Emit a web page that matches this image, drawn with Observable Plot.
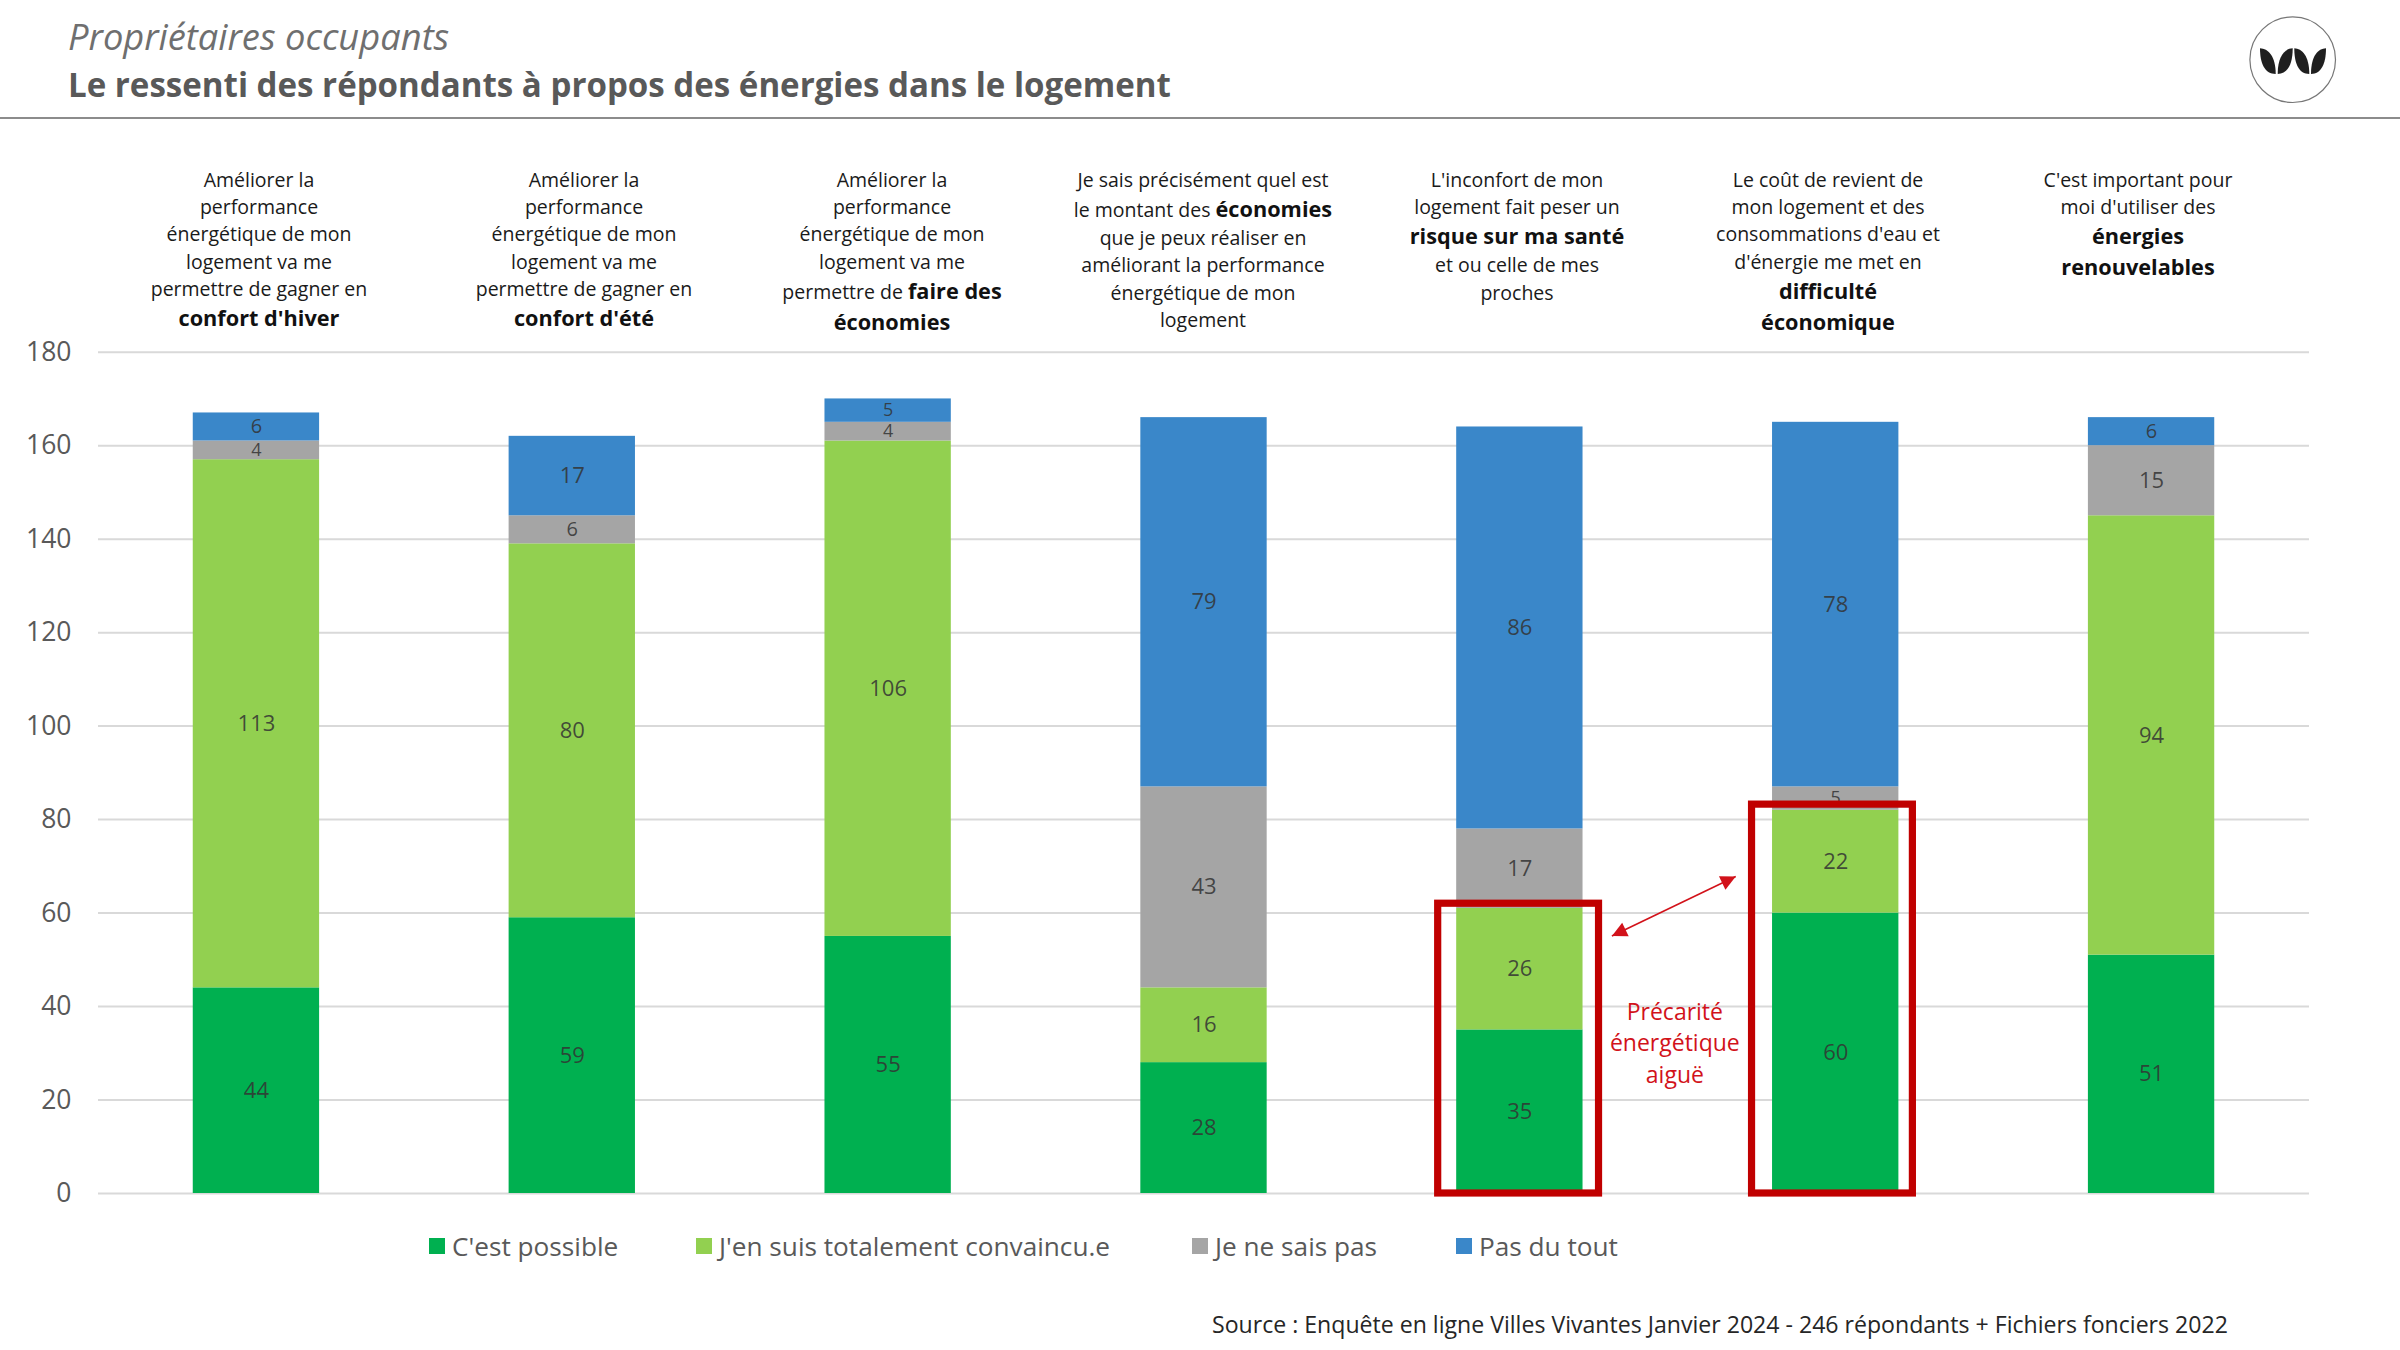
<!DOCTYPE html>
<html lang="fr">
<head>
<meta charset="utf-8">
<title>Le ressenti des répondants à propos des énergies dans le logement</title>
<script src="https://cdn.jsdelivr.net/npm/d3@7"></script>
<script src="https://cdn.jsdelivr.net/npm/@observablehq/plot@0.6"></script>
<style>
  html, body { margin: 0; padding: 0; background: #fff; overflow: hidden; }
  #page { position: relative; width: 2400px; height: 1350px; font-family: "Open Sans", sans-serif; }
  #page > * { position: absolute; }
  #kicker { left: 68px; top: 11px; font-size: 36.3px; font-style: italic; color: #6f6f6f; line-height: 50px; white-space: nowrap; }
  #title { left: 68px; top: 60px; font-size: 33.1px; font-weight: 700; color: #595959; line-height: 50px; white-space: nowrap; }
  #rule { left: 0; top: 117px; width: 2400px; height: 2px; background: #8c8c8c; }
  .head { top: 166px; width: 300px; margin-left: -150px; text-align: center; color: #1a1a1a; font-size: 19.5px; }
  .head div { line-height: 27.2px; height: 27.2px; white-space: nowrap; }
  .head div.t { line-height: 31px; height: 31px; }
  .head b { font-size: 21.7px; font-weight: 700; color: #111; }
  #logo { left: 2248px; top: 14px; }
  #chart { left: 0; top: 336px; }
  #legend { left: 0; top: 1226px; width: 2400px; height: 40px; font-size: 26.2px; color: #595959; line-height: 40px; }
  #legend span { position: absolute; white-space: nowrap; }
  #legend i { position: absolute; left: -23px; top: 12px; width: 15.5px; height: 15.5px; }
  #source { left: 1212px; top: 1306px; font-size: 23.1px; color: #262626; line-height: 36px; white-space: nowrap; }
</style>
</head>
<body>
<div id="page"></div>
<script>
const categories = ["Confort d'hiver", "Confort d'été", "Faire des économies", "Montant des économies", "Risque sur ma santé", "Difficulté économique", "Énergies renouvelables"];
const series = ["C'est possible", "J'en suis totalement convaincu.e", "Je ne sais pas", "Pas du tout"];
const colors = ["#00B050", "#92D050", "#A5A5A5", "#3A87C9"];
const possible = [44, 59, 55, 28, 35, 60, 51];
const convaincu = [113, 80, 106, 16, 26, 22, 94];
const neSaisPas = [4, 6, 4, 43, 17, 5, 15];
const pasDuTout = [6, 17, 5, 79, 86, 78, 6];
const yTicks = [0, 20, 40, 60, 80, 100, 120, 140, 160, 180];

const headings = [
  ["Améliorer la", "performance", "énergétique de mon", "logement va me", "permettre de gagner en", "<b>confort d'hiver</b>"],
  ["Améliorer la", "performance", "énergétique de mon", "logement va me", "permettre de gagner en", "<b>confort d'été</b>"],
  ["Améliorer la", "performance", "énergétique de mon", "logement va me", "permettre de <b>faire des</b>", "<b>économies</b>"],
  ["Je sais précisément quel est", "le montant des <b>économies</b>", "que je peux réaliser en", "améliorant la performance", "énergétique de mon", "logement"],
  ["L'inconfort de mon", "logement fait peser un", "<b>risque sur ma santé</b>", "et ou celle de mes", "proches"],
  ["Le coût de revient de", "mon logement et des", "consommations d'eau et", "d'énergie me met en", "<b>difficulté</b>", "<b>économique</b>"],
  ["C'est important pour", "moi d'utiliser des", "<b>énergies</b>", "<b>renouvelables</b>"]
];
const headingCentres = [259, 584, 892, 1203, 1517, 1828, 2138];
const legendStarts = [452, 719, 1215, 1479];
const highlights = [
  {category: categories[4], top: 62, left: 18.5, right: 16},
  {category: categories[5], top: 83.2, left: 20.5, right: 14}
];
const annotation = ["Précarité", "énergétique", "aiguë"];

const rows = categories.flatMap((category, i) =>
  [possible, convaincu, neSaisPas, pasDuTout].map((values, s) => ({category, series: series[s], value: values[i]}))
);

const page = document.getElementById("page");
function add(tag, id, html) {
  const el = document.createElement(tag);
  if (id) el.id = id;
  if (html) el.innerHTML = html;
  page.appendChild(el);
  return el;
}
add("div", "kicker", "Propriétaires occupants");
add("div", "title", "Le ressenti des répondants à propos des énergies dans le logement");
add("div", "rule");
add("div", "logo", `<svg width="90" height="92" viewBox="0 0 90 92">
  <circle cx="44.7" cy="45.7" r="42.8" fill="#fff" stroke="#777" stroke-width="1.2"/>
  <g fill="#1f1f1f">
    <path d="M12,34.3 C20,34.6 27.7,42 27.7,60 C17,60 12,50 12,34.3Z"/>
    <path d="M44.7,34.3 C36.7,34.6 29.7,42 29.7,60 C39.7,60 44.7,50 44.7,34.3Z"/>
    <path d="M46.3,34.3 C54,34.6 61.3,42 61.3,60 C51,60 46.3,50 46.3,34.3Z"/>
    <path d="M78,34.3 C70,34.6 63,42 63,60 C73,60 78,50 78,34.3Z"/>
  </g>
</svg>`);

headings.forEach((lines, i) => {
  const el = add("div", null, lines.map(l => `<div class="${l.includes("<b>") ? "t" : ""}">${l}</div>`).join(""));
  el.className = "head";
  el.style.left = headingCentres[i] + "px";
});

const arrowMark = (index, {x, y}) => {
  const step = x(categories[5]) - x(categories[4]);
  const cx = x(categories[4]) + x.bandwidth() / 2;
  const ax = cx + step * 0.293, ay = y(55), bx = cx + step * 0.685, by = y(67.7);
  const g = d3.create("svg:g").attr("fill", "#d2121a").attr("stroke", "none");
  const a = Math.atan2(by - ay, bx - ax);
  const head = (px, py, ang) => {
    const len = 15, w = 7.5;
    const bxx = px + Math.cos(ang) * len, byy = py + Math.sin(ang) * len;
    g.append("path").attr("d", `M${px},${py}L${bxx - Math.sin(ang) * w},${byy + Math.cos(ang) * w}L${bxx + Math.sin(ang) * w},${byy - Math.cos(ang) * w}Z`);
  };
  g.append("line").attr("x1", ax).attr("y1", ay).attr("x2", bx).attr("y2", by).attr("stroke", "#d2121a").attr("stroke-width", 1.6);
  head(ax, ay, a);
  head(bx, by, a + Math.PI);
  return g.node();
};

const chart = Plot.plot({
  width: 2400,
  height: 874,
  marginTop: 15.7,
  marginBottom: 17,
  marginLeft: 98,
  marginRight: 91,
  style: {background: "transparent", fontFamily: '"Open Sans", sans-serif', overflow: "visible"},
  x: {domain: categories, paddingInner: 0.6, paddingOuter: 0.3, round: false, axis: null},
  y: {domain: [0, 180], ticks: yTicks, axis: null},
  color: {domain: series, range: colors},
  marks: [
    Plot.gridY(yTicks, {stroke: "#D9D9D9", strokeOpacity: 1, strokeWidth: 2}),
    Plot.axisY(yTicks, {tickSize: 0, tickPadding: 27, fontSize: 26.5, color: "#595959", fill: "#595959", label: null}),
    Plot.barY(rows, {x: "category", y: "value", z: "series", fill: "series", order: series}),
    Plot.text(rows, Plot.stackY({x: "category", y: "value", z: "series", text: "value", order: series, fontSize: d => d.value < 6 ? 18 : d.value < 7 ? 20 : 22, fill: "#333", fillOpacity: 0.85})),
    Plot.barY(highlights.slice(0, 1), {x: "category", y1: 0, y2: "top", insetLeft: -highlights[0].left, insetRight: -highlights[0].right, fill: "none", stroke: "#C00000", strokeWidth: 7.2}),
    Plot.barY(highlights.slice(1), {x: "category", y1: 0, y2: "top", insetLeft: -highlights[1].left, insetRight: -highlights[1].right, fill: "none", stroke: "#C00000", strokeWidth: 7.2}),
    arrowMark,
    Plot.text(annotation, {x: () => categories[4], y: (d, i) => [38.8, 32, 25.2][i], text: d => d, dx: 155, fontSize: 23, fill: "#d2121a"})
  ]
});
chart.id = "chart";
page.appendChild(chart);

const legend = add("div", "legend");
series.forEach((name, i) => {
  const item = document.createElement("span");
  item.style.left = legendStarts[i] + "px";
  item.innerHTML = `<i style="background:${colors[i]}"></i>${name}`;
  legend.appendChild(item);
});
add("div", "source", "Source : Enquête en ligne Villes Vivantes Janvier 2024 - 246 répondants + Fichiers fonciers 2022");
</script>
</body>
</html>
